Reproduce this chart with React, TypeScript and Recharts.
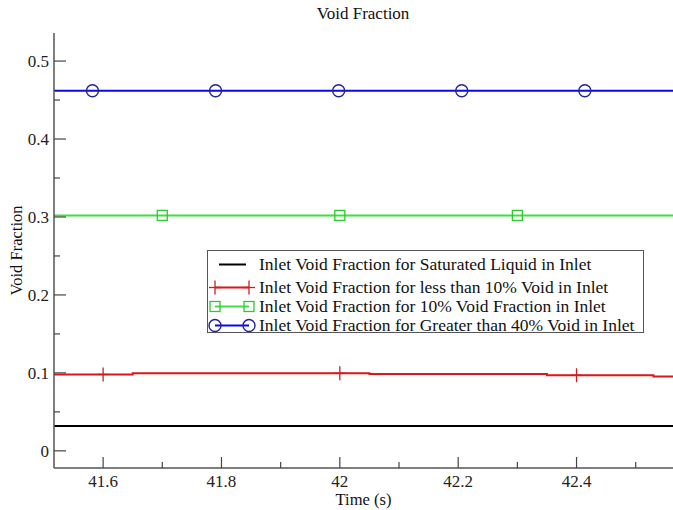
import { ComposedChart, Line, XAxis, YAxis, Legend } from 'recharts'

const FONT = 'Liberation Serif, Tinos, DejaVu Serif, serif'

const xTicks = [41.6, 41.7, 41.8, 41.9, 42.0, 42.1, 42.2, 42.3, 42.4, 42.5]
const yTicks = [0, 0.05, 0.1, 0.15, 0.2, 0.25, 0.3, 0.35, 0.4, 0.45, 0.5]

// saturated liquid (black)
const satTimes = [41.517, 42.563]
const satValues = [0.032, 0.032]

// less than 10% void (red), drawn as steps
const lowTimes = [41.517, 41.6, 41.65, 42.0, 42.05, 42.35, 42.4, 42.53, 42.563]
const lowValues = [0.098, 0.098, 0.0995, 0.0995, 0.0985, 0.097, 0.097, 0.0955, 0.0955]
const lowMarks = [41.6, 42.0, 42.4]

// 10% void (green)
const midTimes = [41.517, 41.7, 42.0, 42.3, 42.563]
const midValues = [0.302, 0.302, 0.302, 0.302, 0.302]
const midMarks = [41.7, 42.0, 42.3]

// greater than 40% void (blue)
const highTimes = [41.517, 41.582, 41.79, 41.998, 42.206, 42.414, 42.563]
const highValues = [0.462, 0.462, 0.462, 0.462, 0.462, 0.462, 0.462]
const highMarks = [41.582, 41.79, 41.998, 42.206, 42.414]

const toRows = (ts: number[], vs: number[]) => ts.map((t, i) => ({ t, v: vs[i] }))

type Kind = 'none' | 'plus' | 'square' | 'circle'

const series = [
  { name: 'Inlet Void Fraction for Saturated Liquid in Inlet', color: '#000000', mark: '#000000', kind: 'none' as Kind, data: toRows(satTimes, satValues), marks: [] as number[], step: false },
  { name: 'Inlet Void Fraction for less than 10% Void in Inlet', color: '#e01515', mark: '#c82020', kind: 'plus' as Kind, data: toRows(lowTimes, lowValues), marks: lowMarks, step: true },
  { name: 'Inlet Void Fraction for 10% Void Fraction in Inlet', color: '#3ee03e', mark: '#30c830', kind: 'square' as Kind, data: toRows(midTimes, midValues), marks: midMarks, step: false },
  { name: 'Inlet Void Fraction for Greater than 40% Void in Inlet', color: '#0a0ae8', mark: '#22229a', kind: 'circle' as Kind, data: toRows(highTimes, highValues), marks: highMarks, step: false },
]

function Marker({ kind, cx, cy, color }: { kind: Kind; cx: number; cy: number; color: string }) {
  if (kind === 'plus') {
    return (
      <g stroke={color} strokeWidth={1.3}>
        <line x1={cx} y1={cy - 7} x2={cx} y2={cy + 7} />
        <line x1={cx - 6} y1={cy} x2={cx + 6} y2={cy} />
      </g>
    )
  }
  if (kind === 'square') {
    return <rect x={cx - 5} y={cy - 5} width={10} height={10} fill="none" stroke={color} strokeWidth={1.3} />
  }
  if (kind === 'circle') {
    return <circle cx={cx} cy={cy} r={6} fill="none" stroke={color} strokeWidth={1.4} />
  }
  return null
}

const isMajorX = (v: number) => Math.round(v * 10) % 2 === 0
const isMajorY = (v: number) => Math.round(v * 100) % 10 === 0
const fmt = (v: number) => String(Math.round(v * 10) / 10)

function BottomTick(props: any) {
  const { x, y, payload } = props
  const major = isMajorX(payload.value)
  return (
    <g>
      <line x1={x} y1={y} x2={x} y2={y - (major ? 11 : 6)} stroke="#444" strokeWidth={1.2} />
      {major && (
        <text x={x} y={y + 19} textAnchor="middle" fontSize={17} fontFamily={FONT} fill="#222">
          {fmt(payload.value)}
        </text>
      )}
    </g>
  )
}

function TopTick(props: any) {
  const { x, y, payload } = props
  const major = isMajorX(payload.value)
  return <line x1={x} y1={y} x2={x} y2={y + (major ? 11 : 6)} stroke="#444" strokeWidth={1.2} />
}

function LeftTick(props: any) {
  const { x, y, payload } = props
  const major = isMajorY(payload.value)
  return (
    <g>
      <line x1={x} y1={y} x2={x + (major ? 12 : 6)} y2={y} stroke="#444" strokeWidth={1.2} />
      {major && (
        <text x={x - 5} y={y + 6} textAnchor="end" fontSize={17} fontFamily={FONT} fill="#222">
          {fmt(payload.value)}
        </text>
      )}
    </g>
  )
}

function RightTick(props: any) {
  const { x, y, payload } = props
  const major = isMajorY(payload.value)
  return <line x1={x} y1={y} x2={x - (major ? 12 : 6)} y2={y} stroke="#444" strokeWidth={1.2} />
}

function LegendBox() {
  return (
    <div
      style={{
        border: '1px solid #555',
        background: '#fff',
        width: 437,
        height: 83,
        paddingTop: 4,
        boxSizing: 'border-box',
        fontFamily: FONT,
        fontSize: 17.5,
        color: '#111',
      }}
    >
      {series.map((s, i) => (
        <div key={s.name} style={{ display: 'flex', alignItems: 'center', height: 19, marginBottom: i === 0 ? 4 : 0, whiteSpace: 'nowrap' }}>
          <svg width={50} height={19} style={{ flex: 'none' }}>
            {s.kind === 'none' ? (
              <line x1={11} y1={9.5} x2={38} y2={9.5} stroke={s.color} strokeWidth={2} />
            ) : (
              <>
                <line x1={7} y1={9.5} x2={41} y2={9.5} stroke={s.color} strokeWidth={2} />
                <Marker kind={s.kind} cx={7} cy={9.5} color={s.mark} />
                <Marker kind={s.kind} cx={41} cy={9.5} color={s.mark} />
              </>
            )}
          </svg>
          <span style={{ marginLeft: 1, lineHeight: '19px' }}>{s.name}</span>
        </div>
      ))}
    </div>
  )
}

export default function App() {
  return (
    <div style={{ position: 'absolute', left: 0, top: 0, width: 673, height: 510, background: '#fff' }}>
      <div
        style={{
          position: 'absolute',
          left: 0,
          width: 726,
          top: 4,
          textAlign: 'center',
          fontFamily: FONT,
          fontSize: 17,
          lineHeight: '20px',
          color: '#111',
        }}
      >
        Void Fraction
      </div>
      <ComposedChart width={673} height={510} margin={{ top: 33, right: 0, bottom: 0, left: 0 }} style={{ overflow: 'visible' }}>
        <XAxis
          dataKey="t"
          type="number"
          domain={[41.517, 42.563]}
          ticks={xTicks}
          interval={0}
          height={42}
          tickSize={0}
          tickMargin={0}
          tickLine={false}
          tick={<BottomTick />}
          axisLine={{ stroke: '#555', strokeWidth: 1.5 }}
          allowDataOverflow
          label={{ value: 'Time (s)', position: 'insideBottom', offset: 5, fontSize: 16.5, fontFamily: FONT, fill: '#111' }}
        />
        <XAxis
          xAxisId="top"
          orientation="top"
          type="number"
          domain={[41.517, 42.563]}
          ticks={xTicks}
          interval={0}
          height={0}
          tickSize={0}
          tickMargin={0}
          tickLine={false}
          tick={<TopTick />}
          axisLine={{ stroke: '#555', strokeWidth: 1.5 }}
          allowDataOverflow
        />
        <YAxis
          type="number"
          domain={[-0.022, 0.536]}
          ticks={yTicks}
          interval={0}
          width={54}
          tickSize={0}
          tickMargin={0}
          tickLine={false}
          tick={<LeftTick />}
          axisLine={{ stroke: '#555', strokeWidth: 1.5 }}
          allowDataOverflow
          label={{ value: 'Void Fraction', angle: -90, position: 'insideLeft', offset: 16, fontSize: 16.5, fontFamily: FONT, fill: '#111', style: { textAnchor: 'middle' } }}
        />
        <YAxis
          yAxisId="right"
          orientation="right"
          type="number"
          domain={[-0.022, 0.536]}
          ticks={yTicks}
          interval={0}
          width={0}
          tickSize={0}
          tickMargin={0}
          tickLine={false}
          tick={<RightTick />}
          axisLine={{ stroke: '#555', strokeWidth: 1.5 }}
          allowDataOverflow
        />
        <Legend
          layout="vertical"
          align="center"
          verticalAlign="middle"
          content={() => <LegendBox />}
          wrapperStyle={{ left: 207, top: 250, width: 437, height: 83 }}
        />
        {series.map((s) => (
          <Line
            key={s.name}
            name={s.name}
            data={s.data}
            dataKey="v"
            type={s.step ? 'stepAfter' : 'linear'}
            stroke={s.color}
            strokeWidth={2}
            isAnimationActive={false}
            activeDot={false}
            dot={(p: any) =>
              s.marks.includes(p.payload.t) ? (
                <Marker key={`${s.name}-${p.index}`} kind={s.kind} cx={p.cx} cy={p.cy} color={s.mark} />
              ) : (
                <g key={`${s.name}-${p.index}`} />
              )
            }
          />
        ))}
      </ComposedChart>
    </div>
  )
}
